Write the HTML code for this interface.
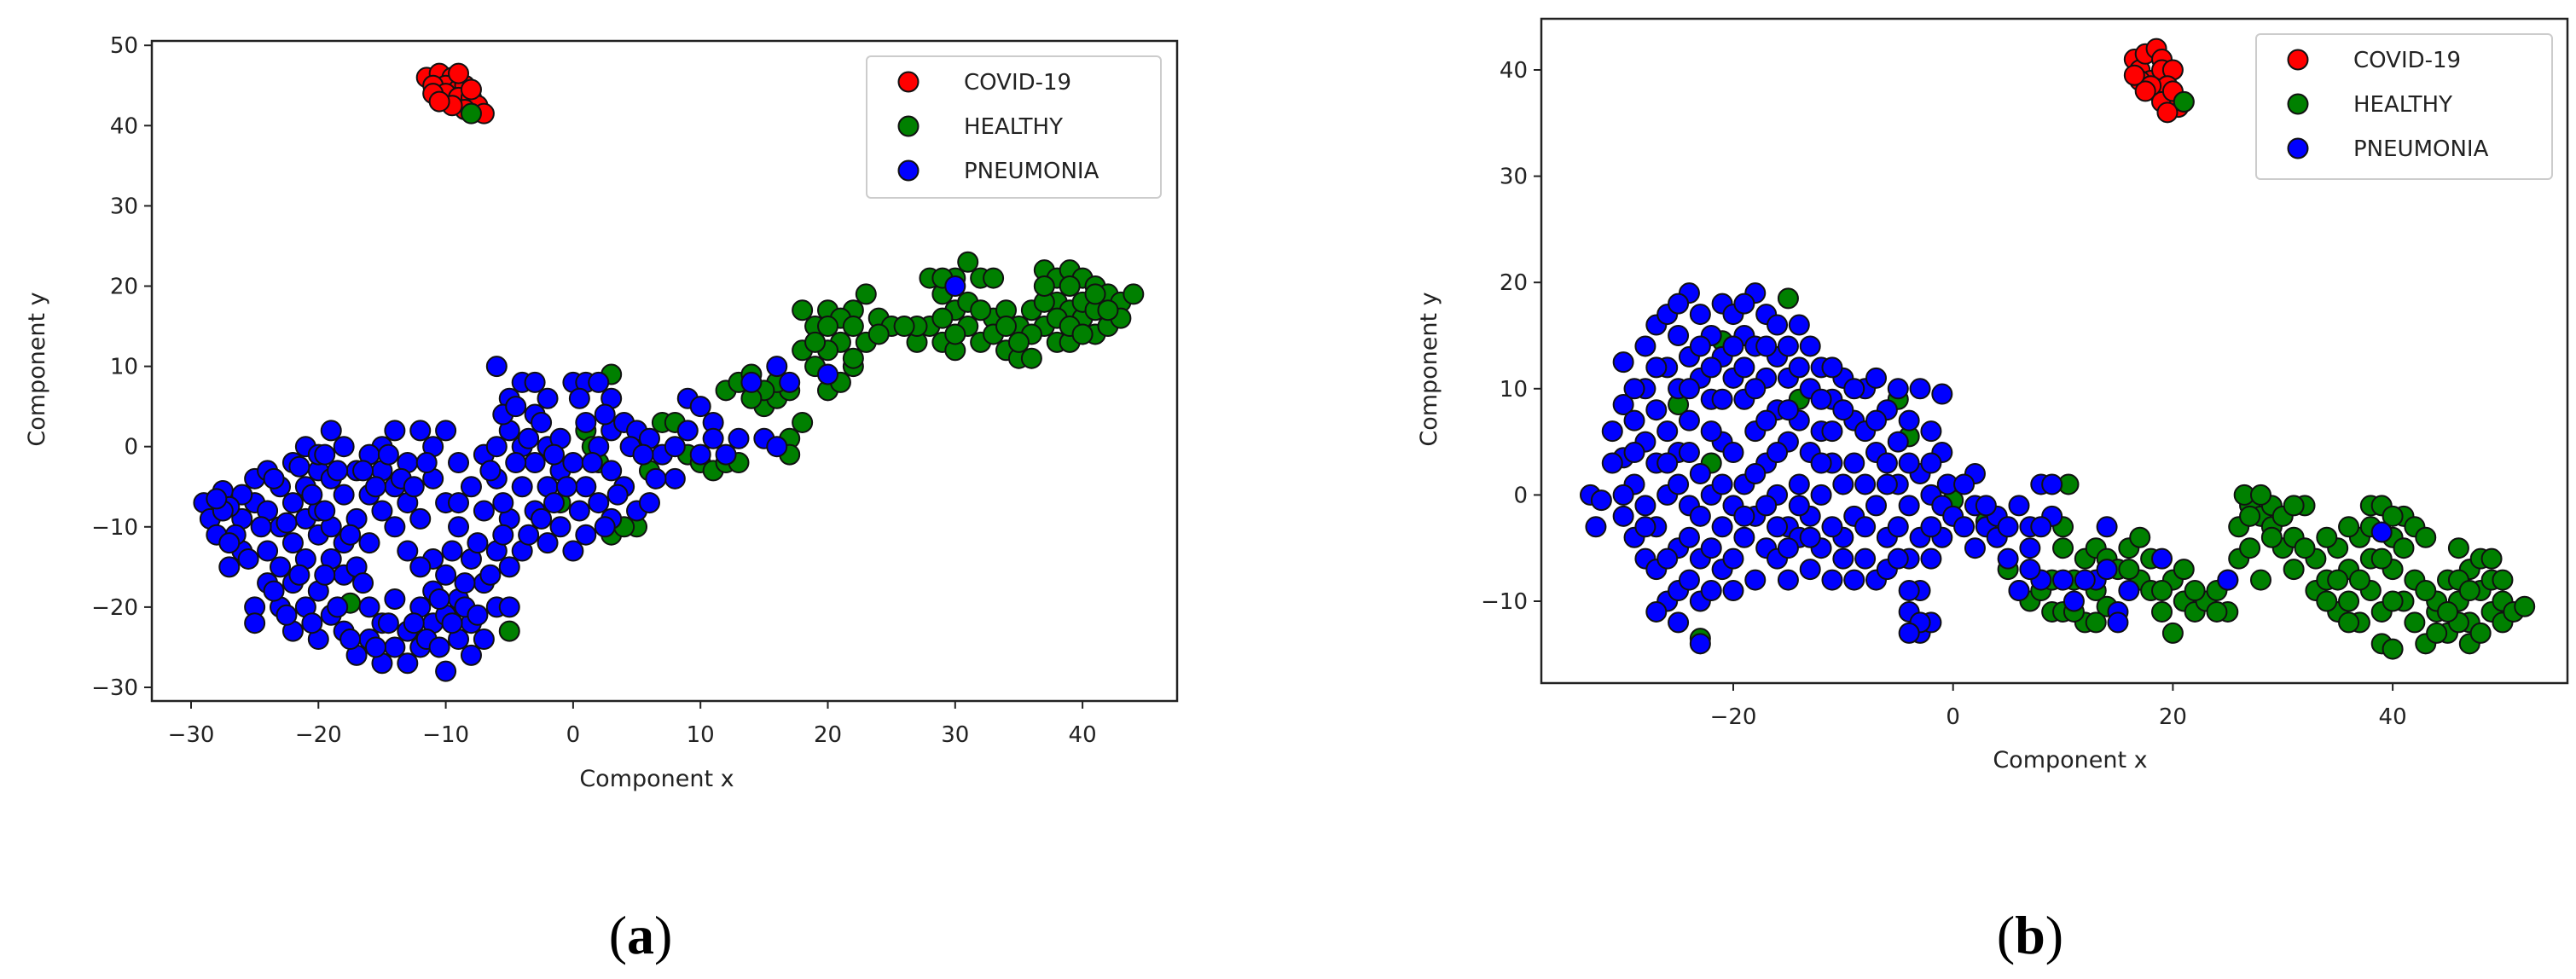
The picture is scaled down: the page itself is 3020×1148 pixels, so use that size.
<!DOCTYPE html>
<html><head><meta charset="utf-8"><style>
html,body{margin:0;padding:0;background:#fff}
svg{display:block}
text{font-family:"DejaVu Sans","Liberation Sans",sans-serif;fill:#222}
</style></head><body>
<svg id="fig" width="3020" height="1148" xmlns="http://www.w3.org/2000/svg">
<g id="pa"></g>
<g id="pb"></g>
<text x="751" y="1118" font-size="64" text-anchor="middle" style="font-family:'Liberation Serif',serif;fill:#000">(<tspan font-weight="bold">a</tspan>)</text>
<text x="2380" y="1118" font-size="64" text-anchor="middle" style="font-family:'Liberation Serif',serif;fill:#000">(<tspan font-weight="bold">b</tspan>)</text>
</svg>
<script>
const aCovid=[[-11.5,46],[-10.5,46.5],[-9.5,46],[-10,45],[-11,45],[-9,44.5],[-8.5,45],[-10,44],[-9,43.5],[-8,43.5],[-7.5,42.5],[-8.5,42],[-7,41.5],[-9.5,42.5],[-11,44],[-10.5,43],[-8,44.5],[-9,46.5]];
const aHealthy=[[1,2],[2,-2],[1.5,0],[3,9],[3,-11],[5,-10],[6,-3],[7,3],[8,3],[9,-1],[10,-2],[11,-3],[12,-2],[13,-2],[12,7],[13,8],[14,9],[15,5],[16,6],[17,7],[18,3],[17,1],[18,12],[19,10],[20,7],[21,8],[22,10],[21,13],[20,17],[18,17],[22,17],[23,19],[24,16],[25,15],[23,13],[22,11],[21,16],[19,15],[27,13],[28,15],[28,21],[29,19],[30,21],[31,23],[32,21],[33,21],[30,17],[31,15],[32,13],[34,12],[35,11],[36,11],[35,15],[33,16],[29,13],[30,12],[31,18],[37,22],[38,21],[39,22],[40,21],[41,20],[42,19],[43,18],[44,19],[38,18],[39,17],[40,16],[41,14],[42,15],[37,15],[36,14],[38,13],[39,13],[40,18],[41,17],[43,16],[36,17],[34,17],[-17.5,-19.5],[-5,-23],[-8,41.5],[17,-1],[-1,-7],[4,-10],
[29,16],[30,14],[32,17],[33,14],[34,15],[37,18],[38,16],[39,15],[40,14],[41,19],[42,17],[39,20],[37,20],[35,13],[29,21],[27,15],[24,14],[20,12],[19,13],[16,8],[15,7],[14,6],[20,15],[22,15],[26,15]];
const aPneu=[[-29,-7],[-28.5,-9],[-28,-11],[-27.5,-5.5],[-27,-15],[-26,-9],[-26,-13],[-25,-7],[-25,-4],[-24,-3],[-24,-8],[-24,-13],[-25,-20],[-25,-22],[-23,-5],[-23,-10],[-23,-15],[-23,-20],[-22,-2],[-22,-7],[-22,-12],[-22,-17],[-22,-23],[-21,0],[-21,-5],[-21,-9],[-21,-14],[-21,-20],[-20,-3],[-20,-8],[-20,-11],[-20,-18],[-20,-24],[-19,2],[-19,-4],[-19,-10],[-19,-14],[-19,-21],[-18,0],[-18,-6],[-18,-12],[-18,-16],[-18,-23],[-17,-3],[-17,-9],[-17,-15],[-17,-26],[-16,-6],[-16,-12],[-16,-20],[-16,-24],[-15,0],[-15,-3],[-15,-8],[-15,-22],[-15,-27],[-14,2],[-14,-5],[-14,-10],[-14,-19],[-14,-25],[-13,-2],[-13,-7],[-13,-23],[-13,-27],[-12,2],[-12,-9],[-12,-20],[-12,-25],[-11,0],[-11,-4],[-11,-14],[-11,-18],[-11,-22],[-10,2],[-10,-7],[-10,-16],[-10,-21],[-10,-28],[-9,-2],[-9,-10],[-9,-19],[-9,-24],[-8,-5],[-8,-14],[-8,-22],[-7,-1],[-7,-8],[-7,-17],[-7,-24],[-6,10],[-6,0],[-6,-4],[-6,-13],[-6,-20],[-5,6],[-5,2],[-5,-9],[-5,-15],[-4,8],[-4,0],[-4,-5],[-4,-13],[-3,8],[-3,4],[-3,-2],[-3,-8],[-2,6],[-2,0],[-2,-5],[-2,-12],[-1,1],[-1,-3],[-1,-10],[0,8],[0,-2],[0,-13],[1,8],[1,3],[1,-5],[1,-11],[2,8],[2,0],[2,-7],[3,6],[3,2],[3,-3],[3,-9],[4,3],[4,-5],[5,2],[5,-8],[6,1],[6,-7],[7,-1],[8,0],[8,-4],[9,6],[10,5],[10,-1],[11,3],[12,-1],[14,8],[15,1],[16,10],[16,0],[17,8],[20,9],[30,20],[-26,-6],[-27,-7.5],[-24,-17],[-13,-13],[-12,-15],[-8,-26],[-5,-20],[-9,-7],[-16,-1],[-20,-1],
[-27.5,-8],[-26.5,-11],[-25.5,-14],[-24.5,-10],[-23.5,-4],[-23.5,-18],[-22.5,-9.5],[-22.5,-21],[-21.5,-2.5],[-21.5,-16],[-20.5,-6],[-20.5,-22],[-19.5,-1],[-19.5,-8],[-19.5,-16],[-18.5,-3],[-18.5,-20],[-17.5,-11],[-17.5,-24],[-16.5,-3],[-16.5,-17],[-15.5,-5],[-15.5,-25],[-14.5,-1],[-14.5,-22],[-13.5,-4],[-12.5,-5],[-12.5,-22],[-11.5,-2],[-11.5,-24],[-10.5,-19],[-10.5,-25],[-9.5,-13],[-9.5,-22],[-8.5,-17],[-8.5,-20],[-7.5,-12],[-7.5,-21],[-6.5,-3],[-6.5,-16],[-5.5,4],[-5.5,-7],[-5.5,-11],[-4.5,5],[-4.5,-2],[-3.5,1],[-3.5,-11],[-2.5,3],[-2.5,-9],[-1.5,-1],[-1.5,-7],[-0.5,-5],[0.5,6],[0.5,-8],[1.5,-2],[2.5,4],[2.5,-10],[3.5,-6],[4.5,0],[5.5,-1],[6.5,-4],[9,2],[11,1],[13,1],[-28,-6.5],[-27,-12]];
const bCovid=[[16.5,41],[17,40],[17.5,41.5],[18.5,42],[19,41],[18,39],[17,39],[19,40],[20,40],[18.5,38],[19.5,38.5],[20,37.5],[19,37],[20.5,36.5],[21,37],[18,38.5],[17.5,38],[20,38],[19.5,36],[16.5,39.5]];
const bHealthy=[[5,-7],[6,-9],[7,-10],[8,-9],[9,-11],[10,-11],[10,-5],[10,-3],[10.5,1],[11,-8],[12,-6],[12,-12],[13,-5],[13,-9],[14,-6],[15,-7],[16,-5],[17,-8],[17,-4],[18,-9],[18,-6],[19,-11],[20,-8],[20,-13],[21,-10],[21,-7],[22,-11],[23,-10],[24,-9],[25,-11],[25,-8],[26,-6],[26,-3],[27,-1],[26.5,0],[27,-5],[28,-2],[28,-8],[29,-3],[29,-1],[30,-2],[30,-5],[31,-4],[31,-7],[32,-1],[33,-6],[33,-9],[34,-8],[35,-11],[35,-5],[36,-7],[36,-10],[37,-4],[37,-12],[38,-1],[38,-6],[38,-9],[39,-1],[39,-11],[39,-14],[40,-7],[40,-4],[41,-2],[41,-10],[42,-3],[42,-12],[43,-4],[43,-14],[44,-11],[45,-8],[45,-13],[46,-5],[46,-10],[47,-7],[47,-12],[47,-14],[48,-9],[48,-6],[49,-11],[49,-8],[50,-10],[50,-12],[51,-11],[52,-10.5],[44,-10],[46,-12],[-15,18.5],[-25,8.5],[-4,5.5],[-14,9],[-23,-13.5],[0,-0.5],[-5,9],[3,-2.5],[34,-10],[36,-3],[-21,14.5],[-22,3],[40,-14.5],[14,-10.5],[21,37],
[27,-2],[28,0],[29,-4],[31,-1],[32,-5],[34,-4],[35,-8],[36,-12],[37,-8],[38,-3],[39,-6],[40,-2],[40,-10],[41,-5],[42,-8],[44,-13],[46,-8],[47,-9],[48,-13],[49,-6],[50,-8],[45,-11],[43,-9],[24,-11],[22,-9],[19,-9],[16,-7],[13,-12],[11,-11],[9,-8]];
const bPneu=[[-33,0],[-32,-0.5],[-32.5,-3],[-31,6],[-30,12.5],[-30,8.5],[-30,3.5],[-30,-2],[-29,7],[-29,1],[-29,-4],[-28,10],[-28,5],[-28,-1],[-28,-6],[-27,16],[-27,8],[-27,3],[-27,-3],[-26,17],[-26,12],[-26,6],[-26,0],[-26,-10],[-25,15],[-25,10],[-25,4],[-25,-5],[-25,-9],[-25,-12],[-24,19],[-24,13],[-24,7],[-24,-1],[-24,-8],[-23,17],[-23,11],[-23,2],[-23,-6],[-23,-10],[-22,15],[-22,9],[-22,0],[-22,-9],[-21,18],[-21,13],[-21,5],[-21,-3],[-21,-7],[-20,17],[-20,11],[-20,-1],[-20,-6],[-19,15],[-19,9],[-19,1],[-19,-4],[-18,19],[-18,14],[-18,6],[-18,-2],[-18,-8],[-17,17],[-17,11],[-17,3],[-17,-5],[-16,13],[-16,8],[-16,0],[-16,-6],[-15,11],[-15,5],[-15,-3],[-15,-8],[-14,16],[-14,7],[-14,1],[-14,-4],[-13,10],[-13,4],[-13,-2],[-13,-7],[-12,12],[-12,6],[-12,0],[-12,-5],[-11,9],[-11,3],[-11,-8],[-10,11],[-10,1],[-10,-4],[-9,7],[-9,-2],[-9,-8],[-8,10],[-8,1],[-8,-6],[-7,11],[-7,4],[-7,-1],[-7,-8],[-6,8],[-6,3],[-6,-4],[-6,-7],[-5,10],[-5,1],[-5,-3],[-4,7],[-4,-1],[-4,-6],[-4,-11],[-3,10],[-3,2],[-3,-4],[-3,-9],[-3,-13],[-2,6],[-2,0],[-2,-6],[-2,-12],[-1,9.5],[-1,4],[-1,-1],[-1,-4],[-0.5,1],[0,-2],[1,-3],[2,-5],[2,2],[2,-1],[3,-3],[4,-2],[4,-4],[5,-6],[6,-9],[7,-3],[7,-5],[8,1],[8,-8],[9,-2],[9,1],[10,-8],[11,-10],[13,-8],[14,-3],[15,-11],[15,-12],[16,-9],[19,-6],[25,-8],[39,-3.5],[-3,-12],[-4,-13],[-23,-14],[-27,-11],
[-31,3],[-30,0],[-29,4],[-29,10],[-28,-3],[-28,14],[-27,12],[-27,-7],[-26,3],[-26,-6],[-25,1],[-25,18],[-24,10],[-24,4],[-24,-4],[-23,14],[-23,-2],[-22,12],[-22,6],[-22,-5],[-21,9],[-21,1],[-20,14],[-20,4],[-20,-9],[-19,18],[-19,12],[-19,-2],[-18,10],[-18,2],[-17,14],[-17,7],[-17,-1],[-16,16],[-16,4],[-16,-3],[-15,14],[-15,8],[-15,-5],[-14,12],[-14,-1],[-13,14],[-13,-4],[-12,9],[-12,3],[-11,12],[-11,6],[-11,-3],[-10,8],[-10,-6],[-9,10],[-9,3],[-8,6],[-8,-3],[-7,7],[-6,1],[-5,5],[-5,-6],[-4,3],[-4,-9],[-2,3],[-2,-3],[1,1],[3,-1],[5,-3],[6,-1],[7,-7],[8,-3],[12,-8],[14,-7]];
const aXTicks=[-30,-20,-10,0,10,20,30,40];
const aYTicks=[-30,-20,-10,0,10,20,30,40,50];
const bXTicks=[-20,0,20,40];
const bYTicks=[-10,0,10,20,30,40];
const legendLabels=["COVID-19","HEALTHY","PNEUMONIA"];
const NS="http://www.w3.org/2000/svg";
function mk(parent,tag,attrs,txt){const e=document.createElementNS(NS,tag);for(const k in attrs)e.setAttribute(k,attrs[k]);if(txt!==undefined)e.textContent=txt;parent.appendChild(e);return e;}
function panel(g,cfg,series,xt,yt,id){
  const sx=v=>cfg.x0+(v-cfg.xv0)*cfg.kx, sy=v=>cfg.y0-(v-cfg.yv0)*cfg.ky;
  const colors=["#ff0000","#008000","#0000ff"];
  series.forEach((s,i)=>{
    const sg=mk(g,'g',{});
    
    
    s.forEach(p=>{const c=mk(sg,'circle',{cx:sx(p[0]),cy:sy(p[1]),r:11.5,fill:colors[i],stroke:'#111','stroke-width':2});
      
      });
  });
  const frame=mk(g,'rect',{x:cfg.L,y:cfg.T,width:cfg.R-cfg.L,height:cfg.B-cfg.T,fill:'none',stroke:'#222','stroke-width':2.5});
  
  
  xt.forEach(v=>{const x=sx(v);mk(g,'line',{x1:x,x2:x,y1:cfg.B,y2:cfg.B+9,stroke:'#222','stroke-width':2});
    const t=mk(g,'text',{x:x,y:cfg.B+48,'font-size':26,'text-anchor':'middle'},String(v).replace('-','\u2212'));
    
    });
  yt.forEach(v=>{const y=sy(v);mk(g,'line',{x1:cfg.L,x2:cfg.L-9,y1:y,y2:y,stroke:'#222','stroke-width':2});
    const t=mk(g,'text',{x:cfg.L-16,y:y+9,'font-size':26,'text-anchor':'end'},String(v).replace('-','\u2212'));
    
    });
  const xl=mk(g,'text',{x:cfg.xlx,y:cfg.xly,'font-size':27,'text-anchor':'middle'},'Component x');
  
  
  const yl=mk(g,'text',{x:0,y:0,'font-size':27,'text-anchor':'middle',transform:`translate(${cfg.ylx},${cfg.yly}) rotate(-90)`},'Component y');
  
  
  const lg=mk(g,'g',{});
  
  
  mk(lg,'rect',{x:cfg.lx,y:cfg.ly,width:cfg.lw,height:cfg.lh,rx:5,fill:'#fff','fill-opacity':0.85,stroke:'#ccc','stroke-width':2});
  legendLabels.forEach((lab,i)=>{const yy=cfg.ly+30+i*52;
    const e=mk(lg,'g',{});
    
    
    mk(e,'circle',{cx:cfg.lx+49,cy:yy,r:11.5,fill:colors[i],stroke:'#111','stroke-width':2});
    mk(e,'text',{x:cfg.lx+114,y:yy+9,'font-size':26},lab);});
}
panel(document.getElementById('pa'),{L:178,R:1380,T:48,B:822,x0:224,xv0:-30,kx:14.93,y0:806,yv0:-30,ky:9.41,xlx:770,xly:922,ylx:52,yly:433,lx:1016,ly:66,lw:345,lh:166},[aCovid,aHealthy,aPneu],aXTicks,aYTicks,'panel-a');
panel(document.getElementById('pb'),{L:1807,R:3010,T:22,B:801,x0:2032,xv0:-20,kx:12.885,y0:705,yv0:-10,ky:12.46,xlx:2427,xly:900,ylx:1684,yly:433,lx:2645,ly:40,lw:347,lh:170},[bCovid,bHealthy,bPneu],bXTicks,bYTicks,'panel-b');
</script>
</body></html>
